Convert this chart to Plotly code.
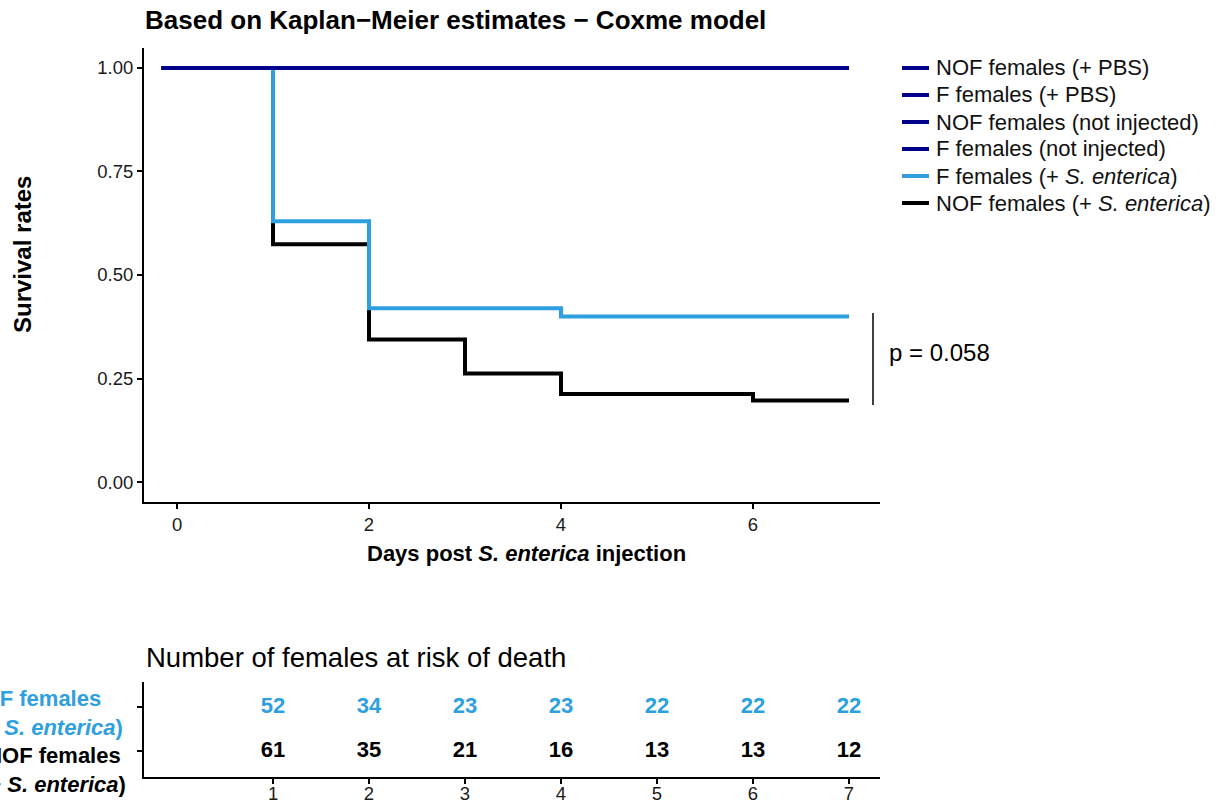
import plotly.graph_objects as go

W, H = 1223, 804

# ---- data ----
days_start = -0.16
days_end = 7
f_ent_times = [days_start, 1, 2, 4, days_end]
f_ent_surv = [1.0, 0.63, 0.42, 0.40, 0.40]
nof_ent_times = [days_start, 1, 2, 3, 4, 6, days_end]
nof_ent_surv = [1.0, 0.574, 0.344, 0.262, 0.213, 0.197, 0.197]
ctrl_times = [days_start, days_end]
ctrl_surv = [1.0, 1.0]

risk_days = [1, 2, 3, 4, 5, 6, 7]
risk_f = [52, 34, 23, 23, 22, 22, 22]
risk_nof = [61, 35, 21, 16, 13, 13, 12]

legend_names = ["NOF females (+ PBS)", "F females (+ PBS)", "NOF females (not injected)",
                "F females (not injected)", "F females (+ <i>S. enterica</i>)", "NOF females (+ <i>S. enterica</i>)"]
p_text = "p = 0.058"

DARK = "#00008B"
LIGHT = "#2E9FDF"
BLACK = "#000000"
legend_colors = [DARK, DARK, DARK, DARK, LIGHT, BLACK]
FONT = "Liberation Sans, Arial, sans-serif"
LW = 4

def px_x(p):
    return p / W

def px_y(p):
    return 1 - p / H

fig = go.Figure()

# drawing order: black, light blue, dark blues
fig.add_trace(go.Scatter(x=nof_ent_times, y=nof_ent_surv, mode="lines", line=dict(color=BLACK, width=LW, shape="hv"),
                         name=legend_names[5]))
fig.add_trace(go.Scatter(x=f_ent_times, y=f_ent_surv, mode="lines", line=dict(color=LIGHT, width=LW, shape="hv"),
                         name=legend_names[4]))
for nm in legend_names[3::-1]:
    fig.add_trace(go.Scatter(x=ctrl_times, y=ctrl_surv, mode="lines", line=dict(color=DARK, width=LW, shape="hv"), name=nm))

# risk table
fig.add_trace(go.Scatter(x=risk_days, y=[2] * len(risk_days), text=[str(v) for v in risk_f], mode="text",
                         textfont=dict(color=LIGHT, size=22, family=FONT, weight="bold"),
                         xaxis="x2", yaxis="y2", showlegend=False, hoverinfo="skip"))
fig.add_trace(go.Scatter(x=risk_days, y=[1] * len(risk_days), text=[str(v) for v in risk_nof], mode="text",
                         textfont=dict(color=BLACK, size=22, family=FONT, weight="bold"),
                         xaxis="x2", yaxis="y2", showlegend=False, hoverinfo="skip"))

xdom = [px_x(144), px_x(880)]
xrange = [-0.344, 7.323]
axis_common = dict(showline=True, linecolor="black", linewidth=2, ticks="outside", ticklen=5, tickwidth=1.5,
                   tickcolor="black", showgrid=False, zeroline=False,
                   tickfont=dict(size=18.5, color="#1a1a1a", family=FONT))

fig.update_layout(
    width=W, height=H,
    margin=dict(l=0, r=0, t=0, b=0),
    paper_bgcolor="white", plot_bgcolor="white",
    font=dict(family=FONT, color="black"),
    showlegend=False,
    xaxis=dict(domain=xdom, range=xrange, tickvals=[0, 2, 4, 6], anchor="y", **axis_common),
    yaxis=dict(domain=[px_y(502), px_y(48)], range=[-0.048, 1.048], tickvals=[0, 0.25, 0.5, 0.75, 1.0],
               ticktext=["0.00", "0.25", "0.50", "0.75", "1.00"], anchor="x", **axis_common),
    xaxis2=dict(domain=xdom, range=xrange, tickvals=risk_days, anchor="y2", ticklabelstandoff=-6, **axis_common),
    yaxis2=dict(domain=[px_y(777), px_y(682)], range=[0.41, 2.57], tickvals=[1, 2], ticktext=["", ""],
                anchor="x2", **axis_common),
)

annotations = [
    dict(text="<b>Based on Kaplan−Meier estimates − Coxme model</b>", x=px_x(143), y=px_y(20), xref="paper", yref="paper",
         xanchor="left", yanchor="middle", showarrow=False, font=dict(size=26, family=FONT, color="black")),
    dict(text="<b>Survival rates</b>", x=px_x(22), y=px_y(255), xref="paper", yref="paper", textangle=-90,
         xanchor="center", yanchor="middle", showarrow=False, font=dict(size=24, family=FONT, color="black")),
    dict(text="<b>Days post <i>S. enterica</i> injection</b>", x=px_x(526), y=px_y(553), xref="paper", yref="paper",
         xanchor="center", yanchor="middle", showarrow=False, font=dict(size=22, family=FONT, color="black")),
    dict(text=p_text, x=px_x(887), y=px_y(352), xref="paper", yref="paper", xanchor="left", yanchor="middle",
         showarrow=False, font=dict(size=24, family=FONT, color="black")),
    dict(text="Number of females at risk of death", x=px_x(144), y=px_y(657), xref="paper", yref="paper",
         xanchor="left", yanchor="middle", showarrow=False, font=dict(size=27.5, family=FONT, color="black")),
    dict(text="<b>F females<br>(+ <i>S. enterica</i>)</b>", x=px_x(51), y=px_y(712.5), xref="paper", yref="paper",
         xanchor="center", yanchor="middle", align="center", showarrow=False,
         font=dict(size=22, family=FONT, color=LIGHT)),
    dict(text="<b>NOF females<br>(+ <i>S. enterica</i>)</b>", x=px_x(53), y=px_y(770), xref="paper", yref="paper",
         xanchor="center", yanchor="middle", align="center", showarrow=False,
         font=dict(size=22, family=FONT, color=BLACK)),
]

# manual legend (tight row spacing like the reference)
leg_y0, leg_dy = 68, 27
for i, (nm, col) in enumerate(zip(legend_names, legend_colors)):
    yy = leg_y0 + i * leg_dy
    fig.add_shape(type="line", xref="paper", yref="paper", x0=px_x(902), x1=px_x(929), y0=px_y(yy), y1=px_y(yy),
                  line=dict(color=col, width=LW))
    annotations.append(dict(text=nm, x=px_x(934), y=px_y(yy), xref="paper", yref="paper", xanchor="left",
                            yanchor="middle", showarrow=False, font=dict(size=22, family=FONT, color="#111111")))

fig.update_layout(annotations=annotations)

fig.add_shape(type="line", xref="paper", yref="paper", x0=px_x(873), x1=px_x(873), y0=px_y(313), y1=px_y(405),
              line=dict(color="black", width=1.5))

fig.write_html(
    "out.html",
    config={"displayModeBar": False},
    post_script=(
        "document.documentElement.style.margin='0px';document.documentElement.style.overflow='hidden';"
        "document.body.style.margin='0px';document.body.style.padding='0px';document.body.style.overflow='hidden';"
        "var gd=document.getElementById('{plot_id}');gd.style.overflow='hidden';gd.style.height='804px';"
    ),
)
